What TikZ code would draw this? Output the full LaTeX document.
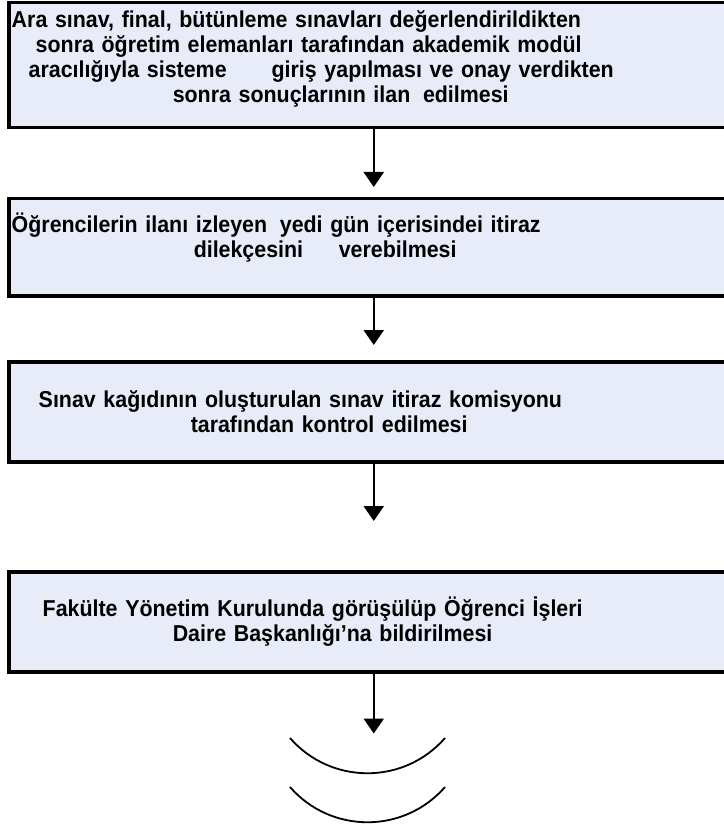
\documentclass[tikz,border=0pt]{standalone}
\usepackage{fontspec}
\setmainfont{Liberation Sans}[FakeStretch=0.93]
\usetikzlibrary{arrows.meta}
\definecolor{boxfill}{RGB}{232,236,248}
\begin{document}
\begin{tikzpicture}[x=1pt,y=-1pt,
  stepbox/.style={draw, line width=3.5pt, fill=boxfill, anchor=north west,
    minimum width=730pt, text width=724pt, inner xsep=3pt, align=left,
    font=\fontsize{23}{25}\selectfont\bfseries},
  flow/.style={-{Triangle[width=20pt,length=15pt]}, line width=2.5pt},
  wave/.style={line width=1.8pt}]
\useasboundingbox (0,0) rectangle (723,826);
\node[stepbox, minimum height=125pt, text depth=93pt] (ilan) at (7,1) {Ara sınav, final, bütünleme sınavları değerlendirildikten\\
\hspace*{24pt}sonra öğretim elemanları tarafından akademik modül\\
\hspace*{17pt}aracılığıyla sisteme\hspace{45pt}giriş yapılması ve onay verdikten\\
\hspace*{161pt}sonra sonuçlarının ilan\hspace{5pt} edilmesi};
\node[stepbox, minimum height=97pt, text depth=50pt] (itiraz) at (7,197) {Öğrencilerin ilanı izleyen\hspace{5pt} yedi gün içerisindei itiraz\\
\hspace*{182pt}dilekçesini\hspace{28pt} verebilmesi};
\node[stepbox, minimum height=100pt] (komisyon) at (7,360) {\hspace*{27pt}Sınav kağıdının oluşturulan sınav itiraz komisyonu\\
\hspace*{179pt}tarafından kontrol edilmesi};
\node[stepbox, minimum height=100pt] (kurul) at (7,570) {\hspace*{31pt}Fakülte Yönetim Kurulunda görüşülüp Öğrenci İşleri\\
\hspace*{161pt}Daire Başkanlığı’na bildirilmesi};
\coordinate (son) at ([yshift=-60pt]kurul.south);
\draw[flow] (ilan.south) -- ([yshift=10pt]itiraz.north);
\draw[flow] (itiraz.south) -- ([yshift=15pt]komisyon.north);
\draw[flow] (komisyon.south) -- ([yshift=49pt]kurul.north);
\draw[flow] (kurul.south) -- (son);
% sonraki adim
\draw[wave] (290,738) .. controls (331,785) and (404,785) .. (445,738);
\draw[wave] (290,787) .. controls (331,834) and (404,834) .. (445,787);
\end{tikzpicture}
\end{document}
